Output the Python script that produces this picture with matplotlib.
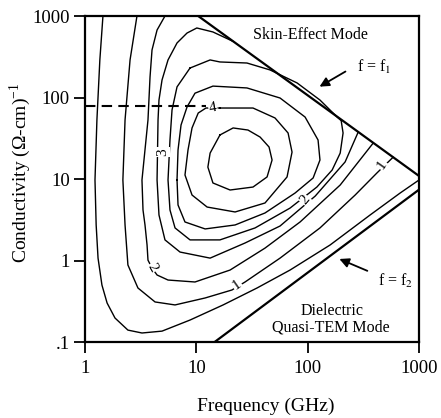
import numpy as np
import matplotlib.pyplot as plt

plt.rcParams['font.family'] = ['Liberation Serif', 'DejaVu Serif']
plt.rcParams['mathtext.fontset'] = 'stix'

# axis ticks
x_ticks = [1, 10, 100, 1000]
x_tick_labels = ['1', '10', '100', '1000']
y_ticks = [0.1, 1, 10, 100, 1000]
y_tick_labels = ['.1', '1', '10', '100', '1000']

# mode boundaries  f = f1 and f = f2  (frequency GHz, conductivity (ohm-cm)^-1)
f1_freq = [10.4, 1000]
f1_cond = [1000, 10.9]
f2_freq = [14.6, 1000]
f2_cond = [0.1, 7.4]

# dashed line at constant conductivity
dash_freq = [1, 12.2]
dash_cond = [78, 78]

# contour lines, outermost first
c1_freq = [1.45, 1.36, 1.28, 1.23, 1.26, 1.31, 1.42, 1.58, 1.86, 2.43, 3.25, 4.92,
           8.78, 17.4, 35.1, 69.5, 159, 364, 677, 1000]
c1_cond = [1000, 289, 53.0, 9.72, 2.73, 1.07, 0.500, 0.301, 0.197, 0.140, 0.129, 0.136,
           0.186, 0.285, 0.460, 0.764, 1.55, 3.62, 6.73, 9.72]

c2_freq = [2.93, 2.54, 2.29, 2.19, 2.29, 2.43, 2.99, 4.26, 6.44, 12.0, 20.9, 27.4,
           56.5, 129, 267, 420, 585]
c2_cond = [1000, 289, 53.0, 9.72, 2.73, 0.881, 0.460, 0.310, 0.285, 0.347, 0.435, 0.545,
           1.07, 2.51, 6.36, 11.9, 18.5]

c3_freq = [5.23, 4.44, 4.00, 3.84, 3.68, 3.25, 3.32, 3.46, 3.61, 3.68, 4.00, 4.44,
           5.57, 9.73, 20.1, 41.4, 85.5, 196, 387]
c3_cond = [1000, 673, 383, 179, 53.0, 9.72, 4.17, 2.73, 1.55, 1.01, 0.809, 0.664,
           0.576, 0.545, 0.764, 1.42, 2.97, 8.44, 27.5]

c4_freq = [21.4, 14.1, 10.1, 8.25, 6.71, 5.57, 4.92, 4.62, 4.53, 4.44, 4.62, 5.23,
           7.14, 13.3, 27.4, 56.5, 117, 217, 284]
c4_cond = [488, 637, 713, 618, 467, 289, 164, 93.1, 53.0, 9.72, 3.62, 1.79,
           1.27, 1.07, 1.64, 2.65, 6.18, 16.2, 37.5]

c5_freq = [8.78, 13.3, 16.3, 28.5, 45.9, 80.3, 129, 184, 200, 208, 196, 166,
           121, 69.5, 33.7, 16.3, 8.78, 6.44, 5.80, 5.57, 5.80, 6.05, 6.71, 8.78]
c5_cond = [230, 289, 273, 265, 218, 151, 93.1, 57.6, 52, 36.7, 20.8, 12.9,
           7.97, 4.40, 2.51, 1.79, 1.79, 2.51, 4.17, 9.72, 30.1, 70.3, 135, 230]

c6_freq = [6.71, 6.85, 7.29, 8.25, 9.73, 14.1, 28.5, 56.5, 94.8, 124, 129, 112,
           77.1, 41.4, 22.3, 12.0, 7.91, 6.85, 6.71]
c6_cond = [9.72, 22.7, 46.0, 76.4, 113, 138, 131, 98.6, 57.6, 30.1, 17.1, 10.3,
           6.73, 3.83, 2.73, 2.44, 2.97, 4.80, 9.72]

c7_freq = [16.3, 32.3, 50.9, 66.7, 72.4, 65.3, 41.4, 22.3, 12.5, 9.15, 7.91, 8.42,
           9.15, 10.4, 12.2, 16.3]
c7_cond = [74.3, 74.3, 56.1, 36.7, 21.4, 10.6, 5.08, 3.94, 4.53, 6.36, 11.2, 22.7,
           42.3, 64.5, 74.3, 74.3]

c8_freq = [16.3, 21.4, 29.1, 37.4, 45.0, 47.9, 43.2, 32.3, 20.1, 14.1, 12.7, 13.3, 16.3]
c8_cond = [34.7, 42.3, 39.9, 32.7, 24.7, 17.1, 10.6, 7.97, 7.33, 8.94, 14.0, 20.8, 34.7]

contours = [(c1_freq, c1_cond), (c2_freq, c2_cond), (c3_freq, c3_cond), (c4_freq, c4_cond),
            (c5_freq, c5_cond), (c6_freq, c6_cond), (c7_freq, c7_cond), (c8_freq, c8_cond)]

# contour labels: text, x, y (axes fraction), rotation
contour_labels = [('4', 0.383, 0.718, 10), ('3', 0.234, 0.583, 90), ('2', 0.201, 0.227, -60),
                  ('1', 0.455, 0.175, 35), ('2', 0.659, 0.436, 50), ('1', 0.889, 0.543, 55)]


def plot_chart():
    fig = plt.figure(figsize=(4.41, 4.18), dpi=100)
    ax = fig.add_axes([0.1927, 0.1818, 0.7574, 0.7799])
    ax.set_xscale('log')
    ax.set_yscale('log')
    ax.set_xlim(1, 1000)
    ax.set_ylim(0.1, 1000)

    for freq, cond in contours:
        ax.plot(freq, cond, color='k', lw=1.0)

    ax.plot(f1_freq, f1_cond, color='k', lw=1.6)
    ax.plot(f2_freq, f2_cond, color='k', lw=1.6)
    ax.plot(dash_freq, dash_cond, color='k', lw=1.5, dashes=(5, 3))

    for txt, x, y, rot in contour_labels:
        ax.text(x, y, txt, transform=ax.transAxes, fontsize=11, rotation=rot,
                ha='center', va='center',
                bbox=dict(facecolor='white', edgecolor='none', pad=0.5))

    ax.text(0.674, 0.942, 'Skin-Effect Mode', transform=ax.transAxes, fontsize=11.5,
            ha='center', va='center')
    ax.text(0.814, 0.844, r'f = f$_1$', transform=ax.transAxes, fontsize=11.5,
            ha='left', va='center')
    ax.text(0.877, 0.187, r'f = f$_2$', transform=ax.transAxes, fontsize=11.5,
            ha='left', va='center')
    ax.text(0.740, 0.095, 'Dielectric', transform=ax.transAxes, fontsize=11.5,
            ha='center', va='center')
    ax.text(0.737, 0.043, 'Quasi-TEM Mode', transform=ax.transAxes, fontsize=11.5,
            ha='center', va='center')

    arrow = dict(arrowstyle='-|>', color='k', lw=1.3, mutation_scale=14)
    ax.annotate('', xy=(0.695, 0.779), xytext=(0.787, 0.834), xycoords='axes fraction',
                arrowprops=arrow)
    ax.annotate('', xy=(0.754, 0.258), xytext=(0.853, 0.215), xycoords='axes fraction',
                arrowprops=arrow)

    ax.set_xticks(x_ticks)
    ax.set_xticklabels(x_tick_labels)
    ax.set_yticks(y_ticks)
    ax.set_yticklabels(y_tick_labels)
    ax.minorticks_off()
    ax.tick_params(direction='out', length=8, width=1.3, labelsize=13.5, pad=3)
    ax.tick_params(axis='x', pad=5)
    for s in ax.spines.values():
        s.set_linewidth(1.6)

    ax.set_xlabel('Frequency (GHz)', fontsize=14)
    ax.xaxis.set_label_coords(0.54, -0.17)
    ax.set_ylabel(r'Conductivity (Ω-cm)$^{\mathregular{-1}}$', fontsize=14)
    ax.yaxis.set_label_coords(-0.155, 0.52)

    fig.savefig('out.png', dpi=100)
    plt.close(fig)


if __name__ == '__main__':
    plot_chart()
